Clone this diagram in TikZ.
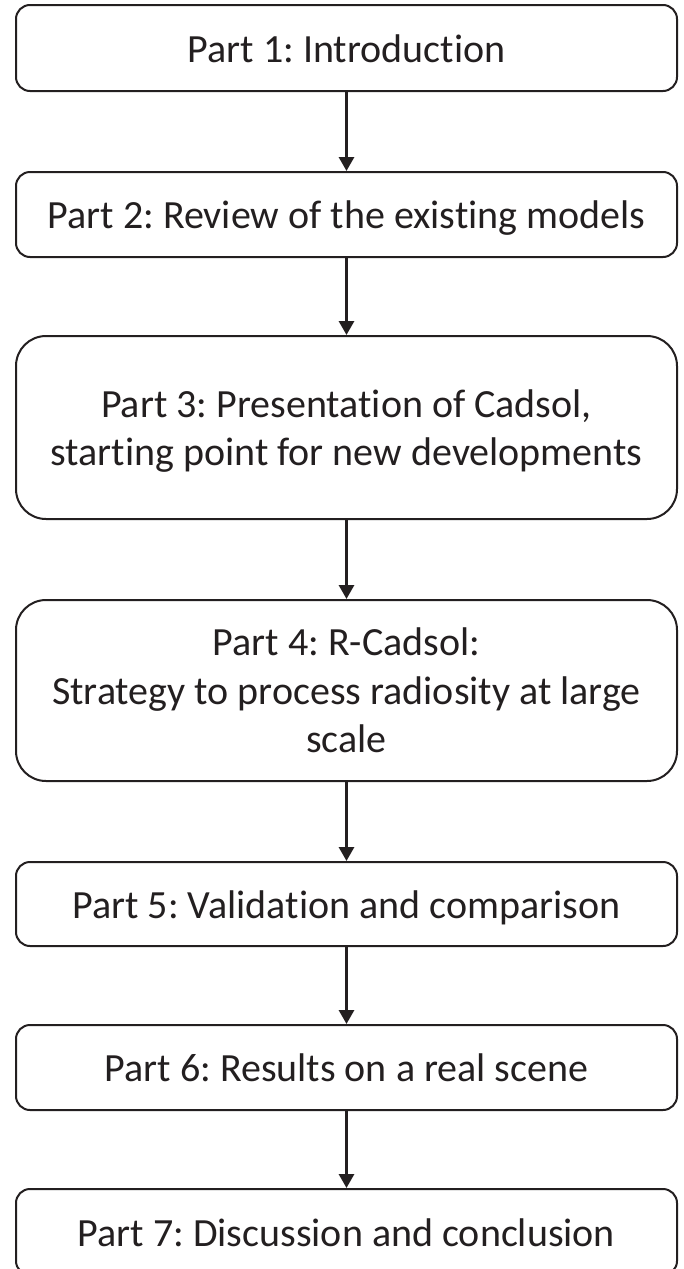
\documentclass[tikz,border=0pt]{standalone}
\usepackage{fontspec}
\setmainfont[Ligatures=NoCommon]{Carlito}
\usetikzlibrary{arrows.meta}
\definecolor{ink}{HTML}{231F20}
\frenchspacing
\begin{document}
\begin{tikzpicture}[x=1pt,y=-1pt,
  partbox/.style={draw=ink, line width=2pt, text=ink, inner sep=0pt,
    minimum width=661pt, align=center,
    font=\fontsize{40}{48.5}\selectfont},
  smallbox/.style={partbox, rounded corners=14pt, text height=28pt, text depth=0pt},
  bigbox/.style={partbox, rounded corners=30pt},
  flow/.style={draw=ink, line width=3pt, -{Triangle[length=14pt,width=15pt]}}]
\useasboundingbox (0,0) rectangle (683,1269);
\node[smallbox, minimum height=86pt] (p1) at (346.5,48) {Part 1: Introduction};
\node[smallbox, minimum height=85pt] (p2) at (346.5,214.5) {Part 2: Review of the existing models};
\node[bigbox, minimum height=183pt] (p3) at (346.5,427.5) {Part 3: Presentation of Cadsol,\\\raisebox{0pt}[\height][0pt]{starting point for new developments}};
\node[bigbox, minimum height=181pt] (p4) at (346.5,690.5) {Part 4: R-Cadsol:\\Strategy to process radiosity at large\\scale};
\node[smallbox, minimum height=84pt] (p5) at (346.5,904) {Part 5: Validation and comparison};
\node[smallbox, minimum height=85pt] (p6) at (346.5,1067.5) {Part 6: Results on a real scene};
\node[smallbox, minimum height=86pt] (p7) at (346.5,1232) {Part 7: Discussion and conclusion};
\draw[flow] (p1) -- (p2);
\draw[flow] (p2) -- (p3);
\draw[flow] (p3) -- (p4);
\draw[flow] (p4) -- (p5);
\draw[flow] (p5) -- (p6);
\draw[flow] (p6) -- (p7);
\end{tikzpicture}
\end{document}
